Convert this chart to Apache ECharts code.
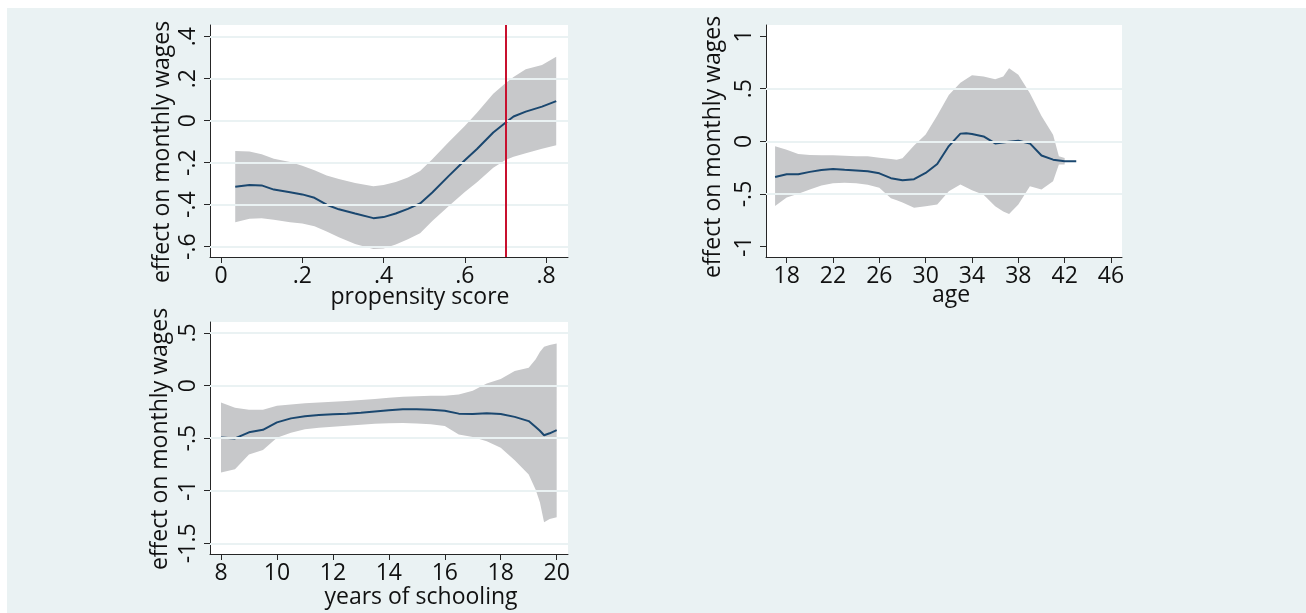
<!DOCTYPE html>
<html>
<head>
<meta charset="utf-8">
<script src="https://cdn.jsdelivr.net/npm/echarts@6/dist/echarts.min.js"></script>
<style>
  html, body { margin: 0; padding: 0; background: #ffffff; }
  #chart { width: 1306px; height: 613px; }
</style>
</head>
<body>
<div id="chart"></div>
<script>
// ---- Panel 1: effect by propensity score ----
const psX      = [0.035, 0.07, 0.10, 0.13, 0.17, 0.20, 0.23, 0.26, 0.29, 0.33, 0.375, 0.40, 0.43, 0.46, 0.49, 0.52, 0.56, 0.60, 0.63, 0.67, 0.70, 0.72, 0.75, 0.79, 0.825];
const psEffect = [-0.314, -0.306, -0.308, -0.328, -0.341, -0.351, -0.367, -0.400, -0.422, -0.442, -0.464, -0.459, -0.442, -0.420, -0.394, -0.342, -0.264, -0.188, -0.135, -0.056, -0.010, 0.020, 0.043, 0.067, 0.093];
const psUpper  = [-0.144, -0.147, -0.160, -0.181, -0.197, -0.214, -0.236, -0.261, -0.278, -0.297, -0.312, -0.306, -0.292, -0.271, -0.239, -0.183, -0.103, -0.025, 0.038, 0.128, 0.178, 0.208, 0.245, 0.265, 0.304];
const psLower  = [-0.483, -0.467, -0.464, -0.472, -0.484, -0.490, -0.503, -0.528, -0.555, -0.587, -0.611, -0.609, -0.590, -0.565, -0.536, -0.478, -0.407, -0.340, -0.293, -0.224, -0.187, -0.172, -0.155, -0.134, -0.117];
const psCutoff = 0.7;
const psXTicks = [0, 0.2, 0.4, 0.6, 0.8];
const psYTicks = [-0.6, -0.4, -0.2, 0, 0.2, 0.4];
const psGridY  = [-0.6, -0.4, -0.2, 0, 0.2, 0.4];

// ---- Panel 2: effect by age ----
const ageX      = [17, 18, 19, 20, 21, 22, 23, 24, 25, 26, 27, 28, 29, 30, 31, 32, 33, 33.5, 34, 35, 36, 37, 38, 39, 40, 41, 42, 43];
const ageEffect = [-0.338, -0.312, -0.313, -0.290, -0.272, -0.262, -0.270, -0.277, -0.284, -0.304, -0.350, -0.370, -0.360, -0.300, -0.215, -0.045, 0.073, 0.076, 0.070, 0.046, -0.020, -0.006, 0.006, -0.020, -0.135, -0.174, -0.189, -0.189];
const ageBandX  = [17, 18, 19, 20, 21, 22, 23, 24, 25, 26, 27, 27.5, 28, 29, 30, 31, 32, 33, 34, 35, 36, 36.7, 37.2, 38, 39, 40, 41, 41.5, 42];
const ageUpper  = [-0.047, -0.079, -0.120, -0.130, -0.132, -0.132, -0.138, -0.142, -0.142, -0.155, -0.167, -0.174, -0.160, -0.040, 0.065, 0.245, 0.440, 0.555, 0.628, 0.615, 0.588, 0.615, 0.694, 0.631, 0.457, 0.240, 0.063, -0.142, -0.158];
const ageLower  = [-0.615, -0.533, -0.497, -0.458, -0.420, -0.398, -0.394, -0.398, -0.412, -0.440, -0.540, -0.560, -0.580, -0.630, -0.617, -0.600, -0.474, -0.410, -0.465, -0.506, -0.617, -0.667, -0.690, -0.600, -0.426, -0.457, -0.379, -0.221, -0.221];
const ageXTicks = [18, 22, 26, 30, 34, 38, 42, 46];
const ageYTicks = [-1, -0.5, 0, 0.5, 1];
const ageGridY  = [-0.5, 0, 0.5];

// ---- Panel 3: effect by years of schooling ----
const schX      = [8, 8.5, 9, 9.5, 10, 10.5, 11, 11.5, 12, 12.5, 13, 13.5, 14, 14.5, 15, 15.5, 16, 16.5, 17, 17.5, 18, 18.5, 19, 19.25, 19.4, 19.55, 19.75, 20];
const schEffect = [-0.494, -0.503, -0.445, -0.421, -0.350, -0.312, -0.292, -0.279, -0.273, -0.268, -0.259, -0.246, -0.235, -0.226, -0.226, -0.230, -0.239, -0.267, -0.270, -0.263, -0.270, -0.298, -0.338, -0.395, -0.430, -0.472, -0.454, -0.424];
const schUpper  = [-0.161, -0.212, -0.230, -0.231, -0.193, -0.179, -0.169, -0.162, -0.155, -0.147, -0.138, -0.128, -0.115, -0.106, -0.102, -0.098, -0.096, -0.085, -0.050, 0.020, 0.063, 0.138, 0.170, 0.250, 0.320, 0.370, 0.385, 0.400];
const schLower  = [-0.827, -0.796, -0.655, -0.613, -0.497, -0.448, -0.415, -0.402, -0.392, -0.382, -0.372, -0.364, -0.358, -0.356, -0.360, -0.368, -0.385, -0.465, -0.490, -0.530, -0.592, -0.710, -0.845, -0.990, -1.110, -1.300, -1.270, -1.253];
const schXTicks = [8, 10, 12, 14, 16, 18, 20];
const schYTicks = [-1.5, -1, -0.5, 0, 0.5];
const schGridY  = [-1.5, -1, -0.5, 0, 0.5];

// ---- Look ----
const FONT = "'Open Sans', 'Noto Sans', sans-serif";
const FS = 23;
const PAGE_BG = '#eaf2f3';
const GRID_LINE = '#eaf2f3';
const BAND = '#c7c8ca';
const LINE = '#1a476f';
const CUTOFF = '#c8102e';
const AXIS = '#262626';
const TEXT = '#111111';

// Stata-style tick labels: ".4", "-.2", "0", "-1.5"
function stataNum(v) {
  const s = String(+Number(v).toFixed(4));
  return s.replace(/^(-?)0\./, '$1.');
}

function xAxisFor(gridIndex, min, max, ticks) {
  return {
    gridIndex, type: 'value', min, max,
    axisLine: { show: true, onZero: false, lineStyle: { color: AXIS, width: 1 } },
    axisTick: { show: true, length: 6, customValues: ticks, lineStyle: { color: AXIS, width: 1 } },
    axisLabel: { customValues: ticks, formatter: stataNum, margin: 8,
                 fontSize: FS, fontFamily: FONT, color: TEXT },
    splitLine: { show: false }
  };
}
function yAxisFor(gridIndex, min, max, ticks) {
  return {
    gridIndex, type: 'value', min, max,
    axisLine: { show: true, onZero: false, lineStyle: { color: AXIS, width: 1 } },
    axisTick: { show: true, length: 6, customValues: ticks, lineStyle: { color: AXIS, width: 1 } },
    axisLabel: { customValues: ticks, formatter: stataNum, margin: 10, rotate: 90,
                 fontSize: FS, fontFamily: FONT, color: TEXT },
    splitLine: { show: false }
  };
}

// horizontal reference lines at the y ticks
function gridLines(idx, values) {
  return {
    type: 'line', xAxisIndex: idx, yAxisIndex: idx, data: [], z: 1, silent: true,
    markLine: {
      silent: true, symbol: ['none', 'none'], animation: false,
      label: { show: false },
      lineStyle: { color: GRID_LINE, width: 2, type: 'solid' },
      data: values.map(v => ({ yAxis: v }))
    }
  };
}

// shaded confidence band as one polygon: upper edge, then lower edge back
function band(idx, xs, lo, hi) {
  return {
    type: 'custom', xAxisIndex: idx, yAxisIndex: idx, z: 3, silent: true,
    data: xs.map((x, i) => [x, lo[i], hi[i]]),
    encode: { x: 0, y: [1, 2] },
    renderItem(params, api) {
      if (params.dataIndex !== 0) return null;
      const pts = [];
      for (let i = 0; i < xs.length; i++) pts.push(api.coord([xs[i], hi[i]]));
      for (let i = xs.length - 1; i >= 0; i--) pts.push(api.coord([xs[i], lo[i]]));
      return { type: 'polygon', shape: { points: pts }, style: { fill: BAND } };
    }
  };
}

function effectLine(idx, xs, ys) {
  return {
    type: 'line', xAxisIndex: idx, yAxisIndex: idx, z: 4, silent: true,
    showSymbol: false, smooth: false,
    lineStyle: { color: LINE, width: 2 },
    data: xs.map((x, i) => [x, ys[i]])
  };
}

function text(str, x, y, rotated) {
  return {
    type: 'text', x, y, rotation: rotated ? Math.PI / 2 : 0, silent: true,
    style: { text: str, fontSize: FS, fontFamily: FONT, fill: TEXT,
             align: 'center', verticalAlign: 'middle' }
  };
}

const chart = echarts.init(document.getElementById('chart'), null, { renderer: 'canvas' });

chart.setOption({
  animation: false,
  backgroundColor: '#ffffff',
  graphic: [
    { type: 'rect', z: -100, silent: true, shape: { x: 7, y: 8, width: 1299, height: 605 }, style: { fill: PAGE_BG } },
    text('effect on monthly wages', 162, 152, true),
    text('propensity score', 420, 297, false),
    text('effect on monthly wages', 713, 147, true),
    text('age', 951, 295, false),
    text('effect on monthly wages', 160, 439, true),
    text('years of schooling', 421, 597, false)
  ],
  grid: [
    { left: 210, top: 25, width: 358, height: 232, show: true, backgroundColor: '#ffffff', borderWidth: 0 },
    { left: 766, top: 25, width: 356, height: 232, show: true, backgroundColor: '#ffffff', borderWidth: 0 },
    { left: 210, top: 322, width: 358, height: 232, show: true, backgroundColor: '#ffffff', borderWidth: 0 }
  ],
  xAxis: [
    xAxisFor(0, -0.0271, 0.854, psXTicks),
    xAxisFor(1, 16.216, 46.95, ageXTicks),
    xAxisFor(2, 7.607, 20.405, schXTicks)
  ],
  yAxis: [
    yAxisFor(0, -0.649, 0.4556, psYTicks),
    yAxisFor(1, -1.098, 1.104, ageYTicks),
    yAxisFor(2, -1.602, 0.6045, schYTicks)
  ],
  series: [
    gridLines(0, psGridY),
    {
      type: 'line', xAxisIndex: 0, yAxisIndex: 0, data: [], z: 2, silent: true,
      markLine: {
        silent: true, symbol: ['none', 'none'], animation: false,
        label: { show: false },
        lineStyle: { color: CUTOFF, width: 2, type: 'solid' },
        data: [{ xAxis: psCutoff }]
      }
    },
    band(0, psX, psLower, psUpper),
    effectLine(0, psX, psEffect),

    gridLines(1, ageGridY),
    band(1, ageBandX, ageLower, ageUpper),
    effectLine(1, ageX, ageEffect),

    gridLines(2, schGridY),
    band(2, schX, schLower, schUpper),
    effectLine(2, schX, schEffect)
  ]
});
</script>
</body>
</html>
